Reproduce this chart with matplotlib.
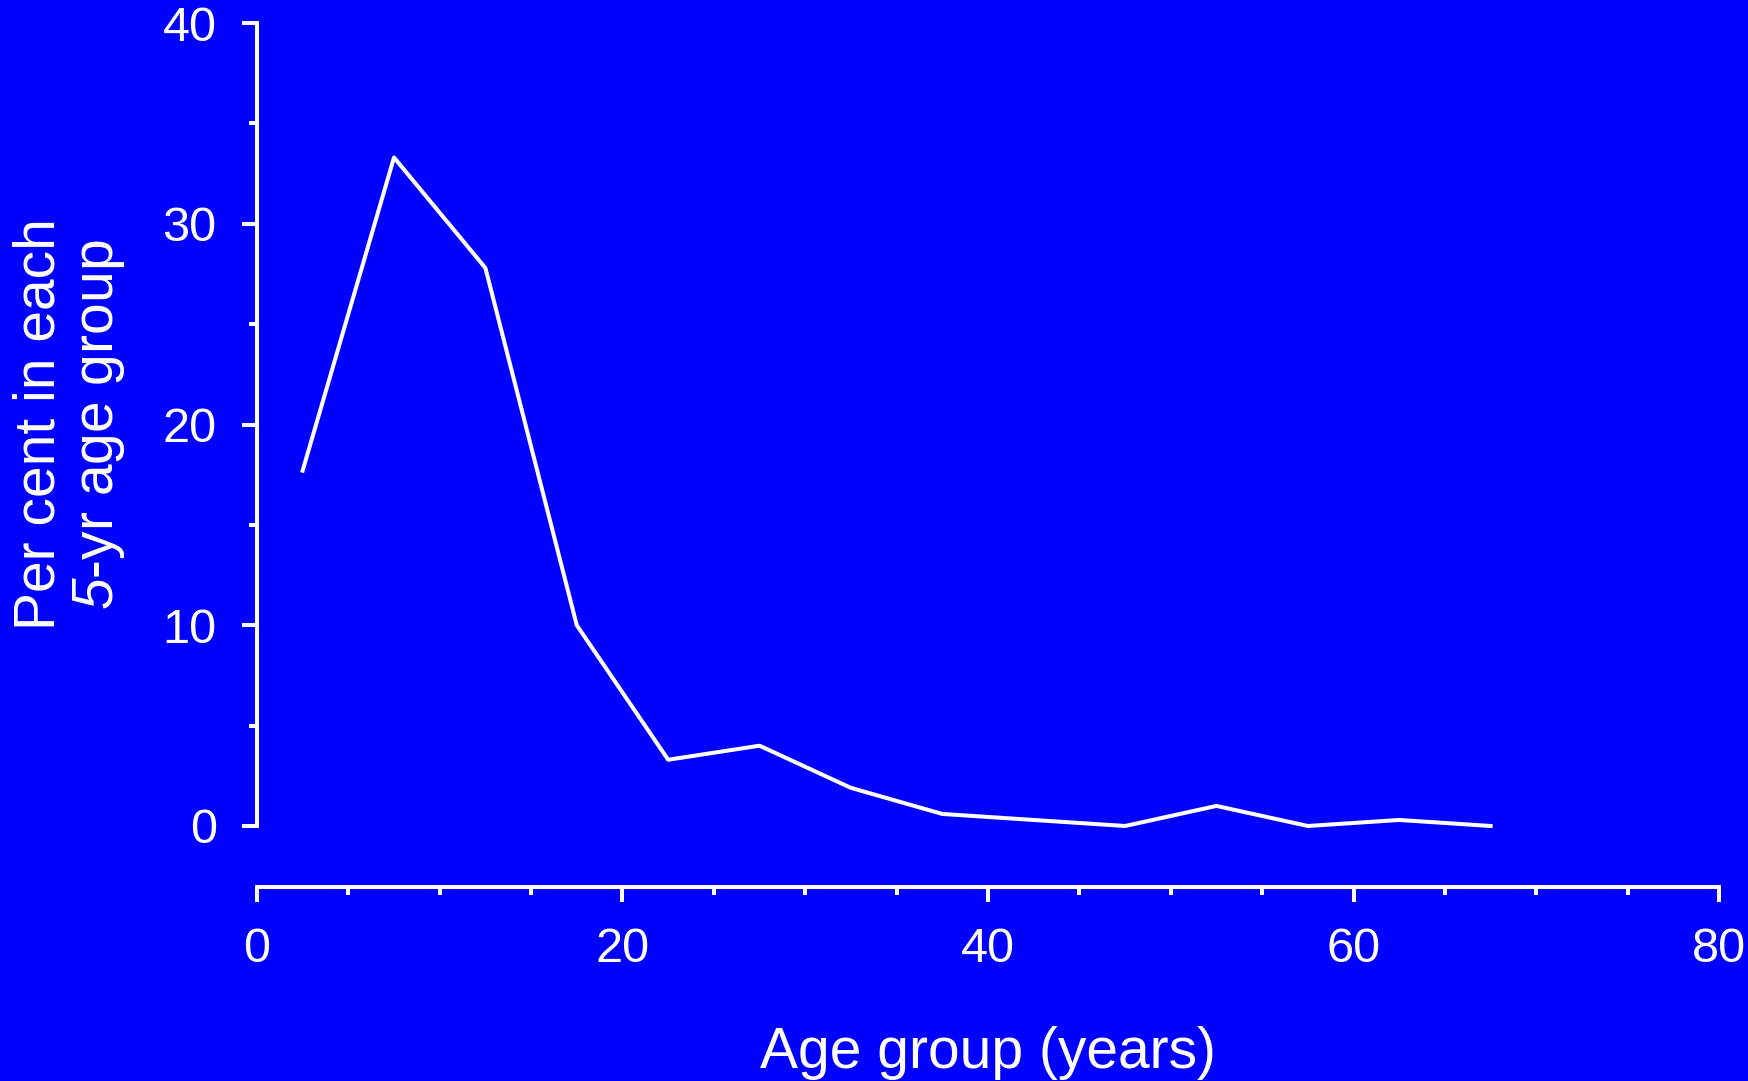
import numpy as np
import matplotlib.pyplot as plt
from matplotlib.ticker import MultipleLocator

plt.rcParams['font.family'] = ['Liberation Sans', 'DejaVu Sans']
plt.rcParams['mathtext.fontset'] = 'custom'
plt.rcParams['mathtext.rm'] = 'Liberation Sans'
# digits in \mathit are forced upright, so use the sf slot for the italic "5"
plt.rcParams['mathtext.sf'] = 'Liberation Sans:italic'

# Age group mid-points (years) and per cent in each 5-yr group
age_mid = [2.5, 7.5, 12.5, 17.5, 22.5, 27.5, 32.5, 37.5, 42.5, 47.5, 52.5, 57.5, 62.5, 67.5]
percent = [17.7, 33.3, 27.8, 10.0, 3.3, 4.0, 1.9, 0.6, 0.3, 0.0, 1.0, 0.0, 0.3, 0.0]

bg = '#0000ff'
fg = 'white'

fig = plt.figure(figsize=(17.49, 10.81), dpi=100, facecolor=bg)
ax = fig.add_axes([0.1469, 0.2359, 0.836, 0.7428])
ax.set_facecolor(bg)

ax.plot(age_mid, percent, color=fg, linewidth=2.9, clip_on=False)

ax.set_xlim(0, 80)
ax.set_ylim(0, 40)
ax.xaxis.set_major_locator(MultipleLocator(20))
ax.xaxis.set_minor_locator(MultipleLocator(5))
ax.yaxis.set_major_locator(MultipleLocator(10))
ax.yaxis.set_minor_locator(MultipleLocator(5))

for side in ['top', 'right']:
    ax.spines[side].set_visible(False)
for side in ['left', 'bottom']:
    ax.spines[side].set_color(fg)
    ax.spines[side].set_linewidth(2.9)
    ax.spines[side].set_capstyle('projecting')
# outward offset is in points: 61 px at 100 dpi
ax.spines['bottom'].set_position(('outward', 44))

ax.tick_params(which='both', colors=fg, width=2.9, direction='out')
ax.tick_params(which='major', length=11)
ax.tick_params(which='minor', length=6)
ax.tick_params(axis='x', which='major', labelsize=35, pad=18)
ax.tick_params(axis='y', which='major', labelsize=35, pad=18)

ax.set_xlabel("Age group (years)", fontsize=41, color=fg)
ax.xaxis.set_label_coords(0.5, -0.301)
ax.xaxis.label.set_va('baseline')

ax.set_ylabel("Per cent in each\n$\\mathsf{5}$-yr age group", fontsize=41, color=fg,
              linespacing=1.1)
ax.yaxis.set_label_coords(-0.089, 0.5)

fig.savefig('out.png', dpi=100, facecolor=bg)
